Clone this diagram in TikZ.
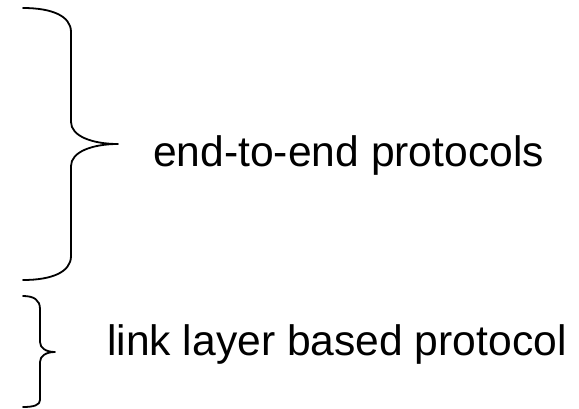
\documentclass[tikz,border=0pt]{standalone}
\usepackage{fontspec}
\setmainfont{Liberation Sans}
\begin{document}
\begin{tikzpicture}[x=1pt,y=-1pt,
  brace/.style={line width=1.8pt,black,line cap=round,line join=round},
  label/.style={anchor=base west,inner sep=0pt,font=\fontsize{42.6}{48}\selectfont}]
\useasboundingbox (0,0) rectangle (579,408);
% large brace
\draw[brace] (23,8) .. controls (52,8) and (71,16) .. (71,32)
  -- (71,122) .. controls (71,136) and (92,144) .. (118,144)
  .. controls (92,144) and (71,152) .. (71,166)
  -- (71,256) .. controls (71,272) and (52,280) .. (23,280);
% small brace
\draw[brace] (23,296) .. controls (34,296) and (40,300) .. (40,309)
  -- (40,342) .. controls (40,348) and (46,352) .. (55,352)
  .. controls (46,352) and (40,356) .. (40,362)
  -- (40,400) .. controls (40,405) and (34,407) .. (23,407);
\node[label] (e2e) at (153,166) {end-to-end protocols};
\node[label] (llb) at (107,355) {link layer based protocol};
\end{tikzpicture}
\end{document}
